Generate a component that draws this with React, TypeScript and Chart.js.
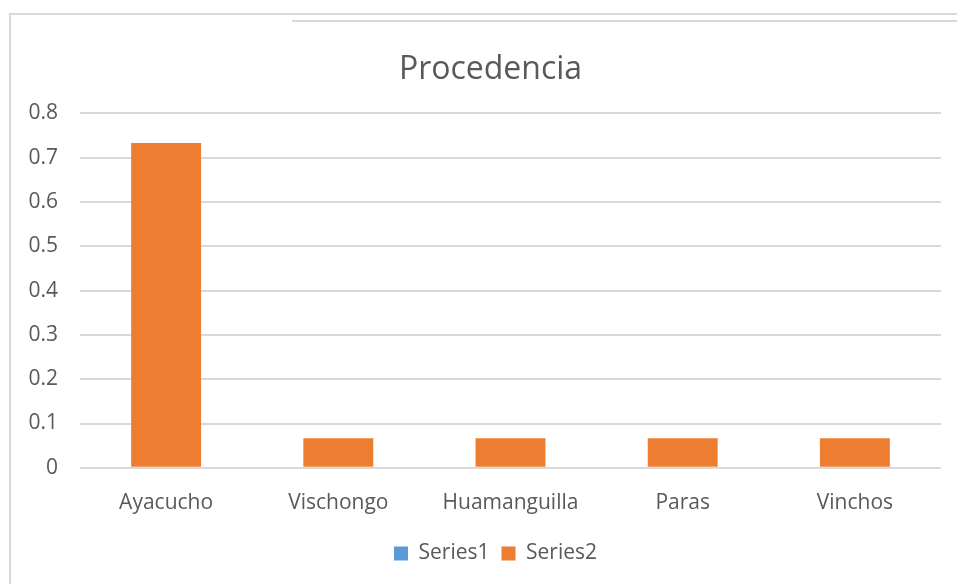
import React, { useEffect, useRef } from "react";
import { Chart, registerables } from "chart.js";

Chart.register(...registerables);

const categories = ["Ayacucho", "Vischongo", "Huamanguilla", "Paras", "Vinchos"];
const series1: (number | null)[] = [null, null, null, null, null];
const series2 = [0.7333, 0.0667, 0.0667, 0.0667, 0.0667];
const chartTitle = "Procedencia";

const FONT = "'Open Sans', sans-serif";
const TEXT = "#595959";

const shiftBoxes = {
  id: "shiftBoxes",
  afterLayout(chart: any) {
    if (chart.legend) {
      chart.legend.left += 25;
      chart.legend.right += 25;
    }
    if (chart.titleBlock) {
      chart.titleBlock.left += 20;
      chart.titleBlock.right += 20;
    }
  },
};

export default function App() {
  const ref = useRef<HTMLCanvasElement | null>(null);
  useEffect(() => {
    document.body.style.margin = "0";
    const ctx = ref.current!;
    const chart = new Chart(ctx, {
      type: "bar",
      data: {
        labels: categories,
        datasets: [
          { label: "Series1", data: series1, backgroundColor: "#5B9BD5", borderWidth: 0 },
          { label: "Series2", data: series2, backgroundColor: "#ED7D31", borderWidth: 0 },
        ],
      },
      plugins: [shiftBoxes],
      options: {
        responsive: false,
        animation: false,
        datasets: { bar: { grouped: false, categoryPercentage: 1, barPercentage: 0.406 } },
        layout: { padding: { left: 0, right: 16, top: 0, bottom: 10 } },
        plugins: {
          tooltip: { enabled: false },
          title: {
            display: true,
            text: chartTitle,
            color: TEXT,
            font: { family: FONT, size: 32, weight: "normal" },
            padding: { top: 51, bottom: 24 },
          },
          legend: {
            position: "bottom",
            labels: {
              color: TEXT,
              font: { family: FONT, size: 21 },
              boxWidth: 14,
              boxHeight: 14,
              padding: 12,
            },
          },
        },
        scales: {
          x: {
            grid: { display: false },
            border: { display: false },
            ticks: { color: TEXT, font: { family: FONT, size: 21 }, padding: 15 },
          },
          y: {
            min: 0,
            max: 0.8,
            grid: { color: "#D9D9D9", lineWidth: 2, drawTicks: false },
            border: { display: false },
            ticks: {
              stepSize: 0.1,
              color: TEXT,
              font: { family: FONT, size: 21 },
              padding: 22,
              callback: (v: any) => String(Math.round(Number(v) * 10) / 10),
            },
            afterFit: (s: any) => {
              s.width = 80;
            },
          },
        },
      },
    });
    return () => chart.destroy();
  }, []);
  return (
    <div style={{ position: "relative", width: 957, height: 584, background: "#fff" }}>
      <canvas ref={ref} width={957} height={584} style={{ position: "absolute", left: 0, top: 0 }} />
      <div style={{ position: "absolute", left: 9, top: 13, width: 948, height: 2, background: "#D9D9D9" }} />
      <div style={{ position: "absolute", left: 9, top: 13, width: 2, height: 571, background: "#D9D9D9" }} />
      <div style={{ position: "absolute", left: 292, top: 20, width: 665, height: 2, background: "#D9D9D9" }} />
    </div>
  );
}
